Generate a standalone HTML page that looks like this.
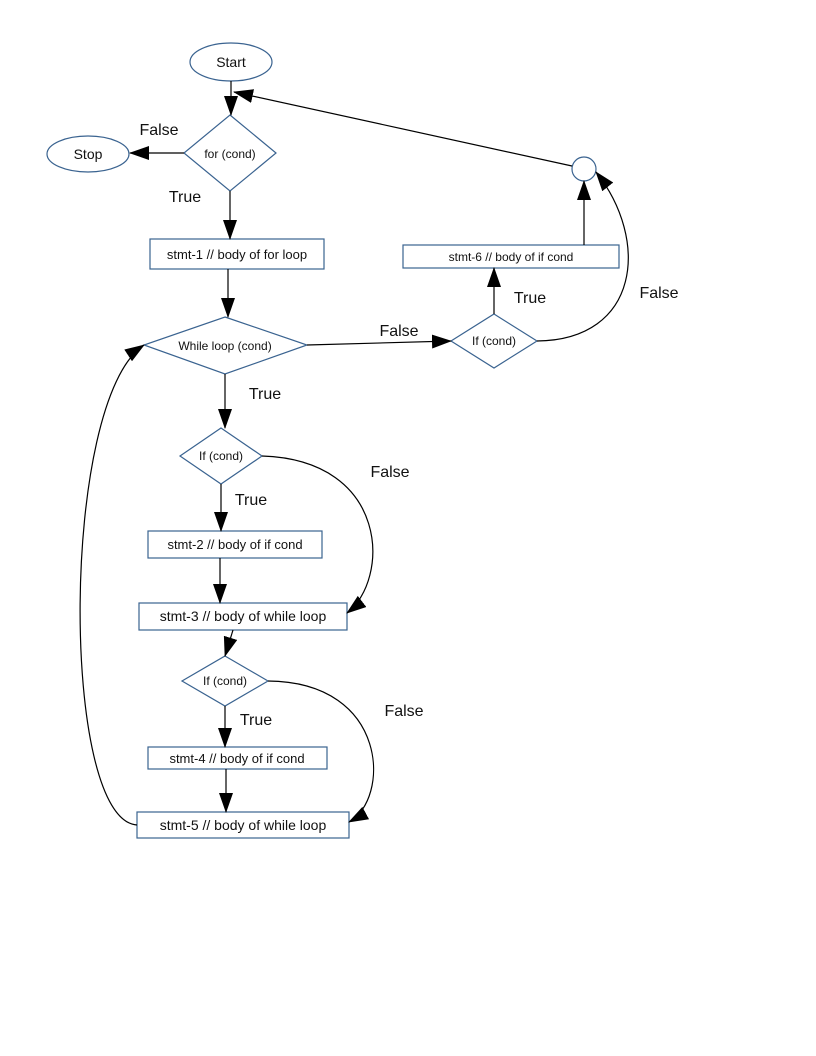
<!DOCTYPE html>
<html><head><meta charset="utf-8"><style>
html,body{margin:0;padding:0;background:#fff;}
svg{display:block;}
text{font-family:"Liberation Sans",sans-serif;fill:#111;}
</style></head><body>
<svg width="816" height="1056" viewBox="0 0 816 1056" xmlns="http://www.w3.org/2000/svg">
<defs>
<marker id="a" markerWidth="20" markerHeight="14" refX="19" refY="7" orient="auto" markerUnits="userSpaceOnUse">
<path d="M0,0 L20,7 L0,14 z" fill="#000"/>
</marker>
</defs>
<g fill="#fff" stroke="#3a6390" stroke-width="1.2">
<ellipse cx="231" cy="62" rx="41" ry="19"/>
<polygon points="230,115 276,153 230,191 184,153"/>
<ellipse cx="88" cy="154" rx="41" ry="18"/>
<rect x="150" y="239" width="174" height="30"/>
<polygon points="225,317 307,345 225,374 144,345"/>
<polygon points="494,314 537,341 494,368 451,341"/>
<rect x="403" y="245" width="216" height="23"/>
<circle cx="584" cy="169" r="12"/>
<polygon points="221,428 262,456 221,484 180,456"/>
<rect x="148" y="531" width="174" height="27"/>
<rect x="139" y="603" width="208" height="27"/>
<polygon points="225,656 268,681 225,706 182,681"/>
<rect x="148" y="747" width="179" height="22"/>
<rect x="137" y="812" width="212" height="26"/>
</g>
<g fill="none" stroke="#000" stroke-width="1.2" marker-end="url(#a)">
<line x1="231" y1="81" x2="231" y2="115"/>
<line x1="184" y1="153" x2="130" y2="153"/>
<line x1="230" y1="191" x2="230" y2="239"/>
<line x1="228" y1="269" x2="228" y2="317"/>
<line x1="307" y1="345" x2="451" y2="341"/>
<line x1="494" y1="314" x2="494" y2="268"/>
<line x1="584" y1="245" x2="584" y2="181"/>
<line x1="572" y1="166" x2="234" y2="92"/>
<path d="M537,341 C640,340 650,240 596,172"/>
<line x1="225" y1="374" x2="225" y2="428"/>
<line x1="221" y1="484" x2="221" y2="531"/>
<path d="M262,456 C390,460 390,580 347,613"/>
<line x1="220" y1="558" x2="220" y2="603"/>
<line x1="233" y1="630" x2="225" y2="656"/>
<path d="M268,681 C390,682 390,800 349,822"/>
<line x1="225" y1="706" x2="225" y2="747"/>
<line x1="226" y1="769" x2="226" y2="812"/>
<path d="M137,825 C60,820 60,400 144,345"/>
</g>
<g font-size="14" text-anchor="middle">
<text x="231" y="67">Start</text>
<text x="88" y="159">Stop</text>
<text x="230" y="158" font-size="12">for (cond)</text>
<text x="237" y="259" font-size="13">stmt-1 // body of for loop</text>
<text x="225" y="350" font-size="12">While loop (cond)</text>
<text x="494" y="345" font-size="12">If (cond)</text>
<text x="511" y="261" font-size="12">stmt-6  // body of if cond</text>
<text x="221" y="460" font-size="12">If (cond)</text>
<text x="235" y="549" font-size="13">stmt-2 // body of if cond</text>
<text x="243" y="621">stmt-3 // body of while loop</text>
<text x="225" y="685" font-size="12">If (cond)</text>
<text x="237" y="763" font-size="13">stmt-4 // body of if cond</text>
<text x="243" y="830">stmt-5 // body of while loop</text>
</g>
<g font-size="16" text-anchor="middle">
<text x="159" y="135">False</text>
<text x="185" y="202">True</text>
<text x="399" y="336">False</text>
<text x="530" y="303">True</text>
<text x="659" y="298">False</text>
<text x="265" y="399">True</text>
<text x="390" y="477">False</text>
<text x="251" y="505">True</text>
<text x="256" y="725">True</text>
<text x="404" y="716">False</text>
</g>
</svg>
</body></html>
